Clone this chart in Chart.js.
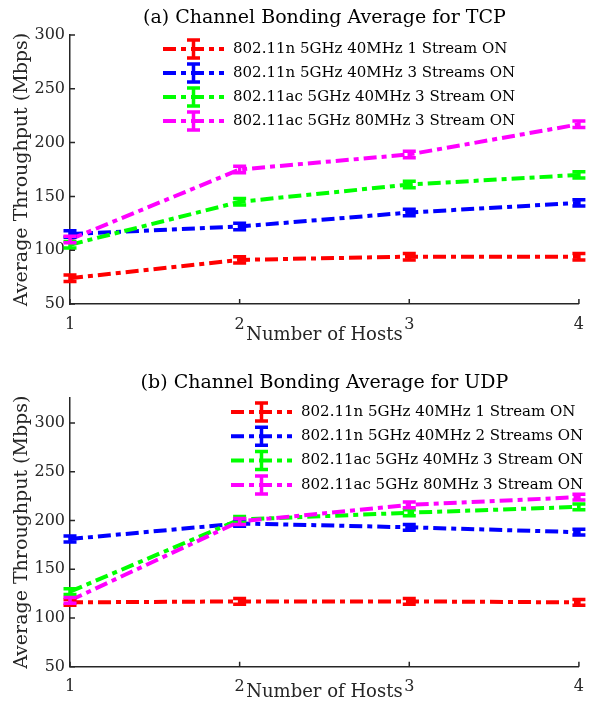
<!DOCTYPE html>
<html>
<head>
<meta charset="utf-8">
<script src="https://cdn.jsdelivr.net/npm/chart.js@4"></script>
<style>
  html, body { margin: 0; padding: 0; background: #fff; }
  #wrap { position: relative; width: 595px; height: 704px; }
  .box { position: absolute; left: 0; width: 595px; height: 352px; }
</style>
</head>
<body>
<div id="wrap">
  <div class="box" style="top:0"><canvas id="tcpChart" width="595" height="352"></canvas></div>
  <div class="box" style="top:352px"><canvas id="udpChart" width="595" height="352"></canvas></div>
</div>
<script>
// Data
const hosts = ['1', '2', '3', '4'];
const yTicks = [50, 100, 150, 200, 250, 300];

const tcpLabels = [
  '802.11n 5GHz 40MHz 1 Stream ON',
  '802.11n 5GHz 40MHz 3 Streams ON',
  '802.11ac 5GHz 40MHz 3 Stream ON',
  '802.11ac 5GHz 80MHz 3 Stream ON'
];
const tcpN1 = [74, 91, 94, 94];
const tcpN3 = [115, 122, 135, 144];
const tcpAc40 = [105, 145, 161, 170];
const tcpAc80 = [110, 175, 189, 217];
const tcpErrN1 = [3, 3, 3, 3];
const tcpErrN3 = [3, 3, 3, 3];
const tcpErrAc40 = [3, 3, 3, 3];
const tcpErrAc80 = [3, 3, 3, 3];

const udpLabels = [
  '802.11n 5GHz 40MHz 1 Stream ON',
  '802.11n 5GHz 40MHz 2 Streams ON',
  '802.11ac 5GHz 40MHz 3 Stream ON',
  '802.11ac 5GHz 80MHz 3 Stream ON'
];
const udpN1 = [116, 117, 117, 116];
const udpN2 = [181, 197, 193, 188];
const udpAc40 = [127, 201, 208, 214];
const udpAc80 = [118, 199, 216, 224];
const udpErrN1 = [3, 3, 3, 3];
const udpErrN2 = [3, 3, 3, 3];
const udpErrAc40 = [3, 3, 3, 3];
const udpErrAc80 = [3, 3, 3, 3];

const colors = ['#ff0000', '#0000ff', '#00ff00', '#ff00ff'];
const axisColor = '#262626';
const fontFamily = '"DejaVu Serif", serif';
const dashDot = [13, 5, 5, 5];

// error bars drawn on top of the lines
const errorBarPlugin = {
  id: 'errorBars',
  afterDatasetsDraw(chart) {
    const ctx = chart.ctx;
    const yScale = chart.scales.y;
    chart.data.datasets.forEach((ds, i) => {
      const meta = chart.getDatasetMeta(i);
      ctx.save();
      ctx.strokeStyle = ds.borderColor;
      ctx.lineWidth = 3.5;
      ctx.setLineDash([]);
      meta.data.forEach((pt, j) => {
        const top = yScale.getPixelForValue(ds.data[j] + ds.errors[j]);
        const bot = yScale.getPixelForValue(ds.data[j] - ds.errors[j]);
        ctx.beginPath();
        ctx.moveTo(pt.x, top);
        ctx.lineTo(pt.x, bot);
        ctx.moveTo(pt.x - 6.5, top);
        ctx.lineTo(pt.x + 6.5, top);
        ctx.moveTo(pt.x - 6.5, bot);
        ctx.lineTo(pt.x + 6.5, bot);
        ctx.stroke();
      });
      ctx.restore();
    });
  }
};

// inward tick marks like matlab
const tickMarkPlugin = {
  id: 'tickMarks',
  afterDraw(chart) {
    const ctx = chart.ctx;
    const area = chart.chartArea;
    const x = chart.scales.x;
    const y = chart.scales.y;
    ctx.save();
    ctx.strokeStyle = axisColor;
    ctx.lineWidth = 1.5;
    ctx.beginPath();
    x.ticks.forEach((t, i) => {
      const px = x.getPixelForTick(i);
      ctx.moveTo(px, area.bottom);
      ctx.lineTo(px, area.bottom - 5);
    });
    y.ticks.forEach((t) => {
      const py = y.getPixelForValue(t.value);
      ctx.moveTo(area.left, py);
      ctx.lineTo(area.left + 5, py);
    });
    ctx.stroke();
    ctx.restore();
  }
};

// legend inside the plot, line sample + errorbar marker
const insideLegendPlugin = {
  id: 'insideLegend',
  afterDraw(chart, args, opts) {
    const ctx = chart.ctx;
    ctx.save();
    ctx.font = '15px ' + fontFamily;
    ctx.textBaseline = 'middle';
    chart.data.datasets.forEach((ds, i) => {
      const y = opts.y + i * opts.rowGap;
      const mid = opts.x + opts.lineLen / 2;
      ctx.strokeStyle = ds.borderColor;
      ctx.lineWidth = 4;
      ctx.setLineDash(ds.borderDash);
      ctx.beginPath();
      ctx.moveTo(opts.x, y);
      ctx.lineTo(opts.x + opts.lineLen, y);
      ctx.stroke();
      ctx.setLineDash([]);
      ctx.lineWidth = 3.5;
      ctx.beginPath();
      ctx.moveTo(mid, y - 9);
      ctx.lineTo(mid, y + 9);
      ctx.moveTo(mid - 6.5, y - 9);
      ctx.lineTo(mid + 6.5, y - 9);
      ctx.moveTo(mid - 6.5, y + 9);
      ctx.lineTo(mid + 6.5, y + 9);
      ctx.stroke();
      ctx.fillStyle = '#000';
      ctx.fillText(ds.label, opts.x + opts.lineLen + 9, y);
    });
    ctx.restore();
  }
};

function makeDatasets(labels, series, errors) {
  return series.map((values, i) => ({
    label: labels[i],
    data: values,
    errors: errors[i],
    borderColor: colors[i],
    backgroundColor: colors[i],
    borderWidth: 4,
    borderDash: dashDot,
    pointRadius: 0,
    fill: false,
    tension: 0,
    order: 4 - i
  }));
}

function makeChart(canvasId, opts) {
  const canvas = document.getElementById(canvasId);
  return new Chart(canvas.getContext('2d'), {
    type: 'line',
    data: {
      labels: hosts,
      datasets: makeDatasets(opts.labels, opts.series, opts.errors)
    },
    plugins: [errorBarPlugin, tickMarkPlugin, insideLegendPlugin],
    options: {
      responsive: false,
      animation: false,
      layout: { padding: { left: 0, right: 6, top: 0, bottom: 0 } },
      plugins: {
        legend: { display: false },
        tooltip: { enabled: false },
        title: {
          display: true,
          text: opts.title,
          fullSize: false,
          color: '#000',
          font: { family: fontFamily, size: 19, weight: 'normal' },
          padding: opts.titlePad
        },
        insideLegend: opts.legend
      },
      scales: {
        x: {
          grid: { display: false, drawTicks: false },
          border: { display: true, color: axisColor, width: 1.5 },
          ticks: { color: axisColor, padding: 11, maxRotation: 0, font: { family: fontFamily, size: 16 } },
          title: {
            display: true,
            text: 'Number of Hosts',
            color: axisColor,
            font: { family: fontFamily, size: 18 },
            padding: { top: 0, bottom: opts.xTitleBottom }
          },
          afterFit: (scale) => { scale.height = opts.xHeight; }
        },
        y: {
          min: 50,
          max: opts.yMax,
          afterBuildTicks: (scale) => { scale.ticks = yTicks.map(v => ({ value: v })); },
          grid: { display: false, drawTicks: false },
          border: { display: true, color: axisColor, width: 1.5 },
          ticks: { color: axisColor, padding: 5, font: { family: fontFamily, size: 16 } },
          title: {
            display: true,
            text: 'Average Throughput (Mbps)',
            color: axisColor,
            font: { family: fontFamily, size: 19 },
            padding: { top: 11, bottom: 0 }
          },
          afterFit: (scale) => { scale.width = 70; }
        }
      }
    }
  });
}

// TCP chart
makeChart('tcpChart', {
  title: '(a) Channel Bonding Average for TCP',
  labels: tcpLabels,
  series: [tcpN1, tcpN3, tcpAc40, tcpAc80],
  errors: [tcpErrN1, tcpErrN3, tcpErrAc40, tcpErrAc80],
  yMax: 300,
  titlePad: { top: 6.6, bottom: 5.6 },
  xHeight: 48,
  xTitleBottom: 6,
  legend: { x: 163, y: 49, rowGap: 24, lineLen: 61 }
});

// UDP chart
makeChart('udpChart', {
  title: '(b) Channel Bonding Average for UDP',
  labels: udpLabels,
  series: [udpN1, udpN2, udpAc40, udpAc80],
  errors: [udpErrN1, udpErrN2, udpErrAc40, udpErrAc80],
  yMax: 326,
  titlePad: { top: 19.6, bottom: 3.3 },
  xHeight: 37.3,
  xTitleBottom: 1,
  legend: { x: 231, y: 60, rowGap: 24.3, lineLen: 61 }
});
</script>
</body>
</html>
